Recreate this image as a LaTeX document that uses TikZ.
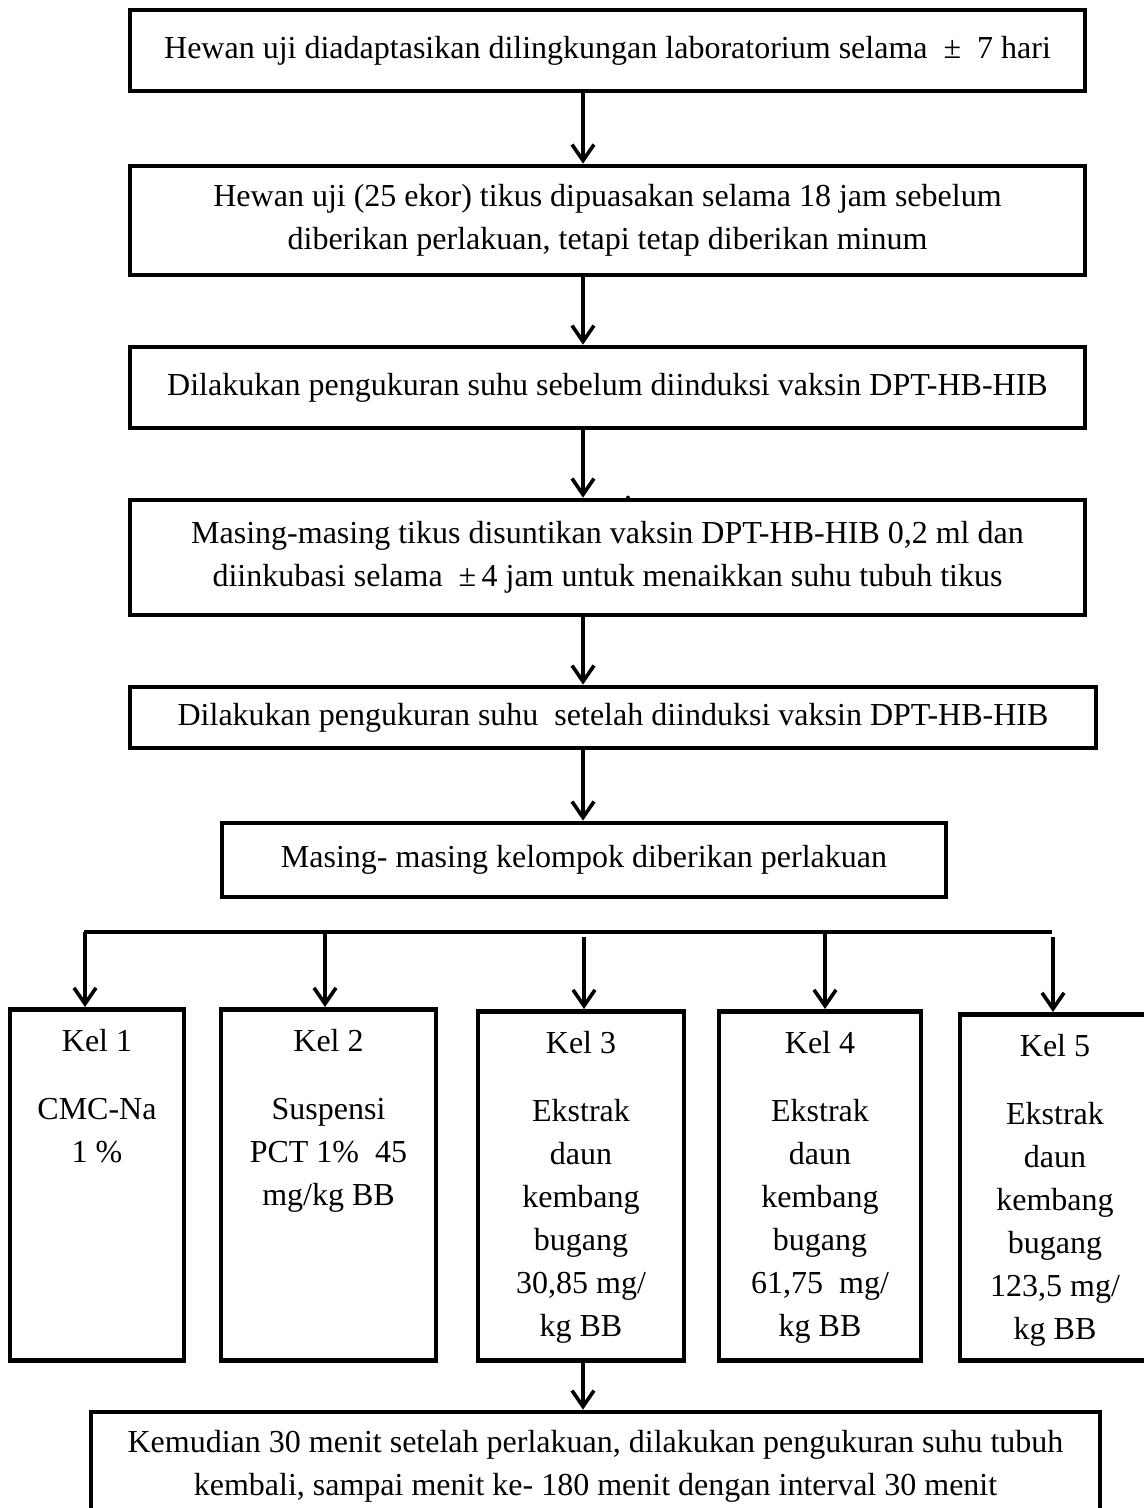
\documentclass[tikz,border=0pt]{standalone}
\usepackage{fontspec}
\setmainfont{Liberation Serif}
\usetikzlibrary{arrows.meta, positioning}
\tikzset{
  stepbox/.style = {rectangle, draw=black, line width=2.3pt, align=center, inner sep=0pt, font=\fontsize{16}{21.5}\selectfont},
  kelbox/.style  = {rectangle, draw=black, line width=2.3pt, inner sep=0pt, anchor=north, font=\fontsize{16}{21.5}\selectfont},
  flow/.style    = {-{Straight Barb[length=8pt, width=11pt]}, line width=1.8pt, black},
  barline/.style = {line width=2.2pt, black},
}
\newcommand{\keltext}[3]{\parbox[t][#1][t]{#2}{\centering\vspace*{10pt}#3}}

\begin{document}
\begin{tikzpicture}[x=0.5pt, y=-0.5pt]
  \path[use as bounding box, fill=white] (0,0) rectangle (1144,1508);
  \coordinate (ax) at (583,0);

  \node[stepbox, minimum width=477.5pt, minimum height=40.5pt] (adapt) at (607.5,50.5)
    {Hewan uji diadaptasikan dilingkungan laboratorium selama ~± ~7 hari};
  \node[stepbox, minimum width=477.5pt, minimum height=54.5pt] (puasa) at (607.5,220.5)
    {Hewan uji (25 ekor) tikus dipuasakan selama 18 jam sebelum\\ diberikan perlakuan, tetapi tetap diberikan minum};
  \node[stepbox, minimum width=477.5pt, minimum height=40.5pt] (ukur1) at (607.5,387.5)
    {Dilakukan pengukuran suhu sebelum diinduksi vaksin DPT-HB-HIB};
  \node[stepbox, minimum width=477.5pt, minimum height=57.5pt] (suntik) at (607.5,557.5)
    {Masing-masing tikus disuntikan vaksin DPT-HB-HIB 0,2 ml dan\\ diinkubasi selama ~±\,4 jam untuk menaikkan suhu tubuh tikus};
  \node[stepbox, minimum width=483pt, minimum height=30.5pt] (ukur2) at (613,717.5)
    {Dilakukan pengukuran suhu ~setelah diinduksi vaksin DPT-HB-HIB};
  \node[stepbox, minimum width=362pt, minimum height=37pt] (kelompok) at (584,860)
    {Masing- masing kelompok diberikan perlakuan};
  \node[inner sep=0pt, anchor=base, font=\fontsize{16}{16}\selectfont] (titik) at (628,499) {.};

  \draw[flow] (adapt.south -| ax) -- (puasa.north -| ax);
  \draw[flow] (puasa.south -| ax) -- (ukur1.north -| ax);
  \draw[flow] (ukur1.south -| ax) -- (suntik.north -| ax);
  \draw[flow] (suntik.south -| ax) -- (ukur2.north -| ax);
  \draw[flow] (ukur2.south -| ax) -- (kelompok.north -| ax);

  \node[kelbox, minimum width=87pt] (kel1) at (97,1007)
    {\keltext{175.5pt}{84pt}{Kel 1\\[12.5pt] CMC-Na\\ 1 \%}};
  \node[kelbox, minimum width=107.5pt] (kel2) at (328.5,1007)
    {\keltext{175.5pt}{104pt}{Kel 2\\[12.5pt] Suspensi\\ PCT 1\% ~45\\ mg/kg BB}};
  \node[kelbox, minimum width=103pt] (kel3) at (581,1009)
    {\keltext{174.5pt}{100pt}{Kel 3\\[12.5pt] Ekstrak\\ daun\\ kembang\\ bugang\\ 30,85 mg/\\ kg BB}};
  \node[kelbox, minimum width=101pt] (kel4) at (820,1009)
    {\keltext{174.5pt}{98pt}{Kel 4\\[12.5pt] Ekstrak\\ daun\\ kembang\\ bugang\\ 61,75 ~mg/\\ kg BB}};
  \node[kelbox, minimum width=95pt] (kel5) at (1055,1012)
    {\keltext{173pt}{92pt}{Kel 5\\[12.5pt] Ekstrak\\ daun\\ kembang\\ bugang\\ 123,5 mg/\\ kg BB}};

  \coordinate (barl) at (84,932);
  \coordinate (barr) at (1052,932);
  \draw[barline] (barl) -- (barr);
  \coordinate (d1) at (85,932);
  \coordinate (d2) at (325,932);
  \coordinate (d3) at (584,937);
  \coordinate (d4) at (825,932);
  \coordinate (d5) at (1053,937);
  \draw[flow] (d1) -- (d1 |- kel1.north);
  \draw[flow] (d2) -- (d2 |- kel2.north);
  \draw[flow] (d3) -- (d3 |- kel3.north);
  \draw[flow] (d4) -- (d4 |- kel4.north);
  \draw[flow] (d5) -- (d5 |- kel5.north);

  \node[stepbox, minimum width=504.5pt, minimum height=54pt] (akhir) at (595.5,1466)
    {Kemudian 30 menit setelah perlakuan, dilakukan pengukuran suhu tubuh\\ kembali, sampai menit ke- 180 menit dengan interval 30 menit};
  \draw[flow] (kel3.south -| ax) -- (akhir.north -| ax);
\end{tikzpicture}
\end{document}
